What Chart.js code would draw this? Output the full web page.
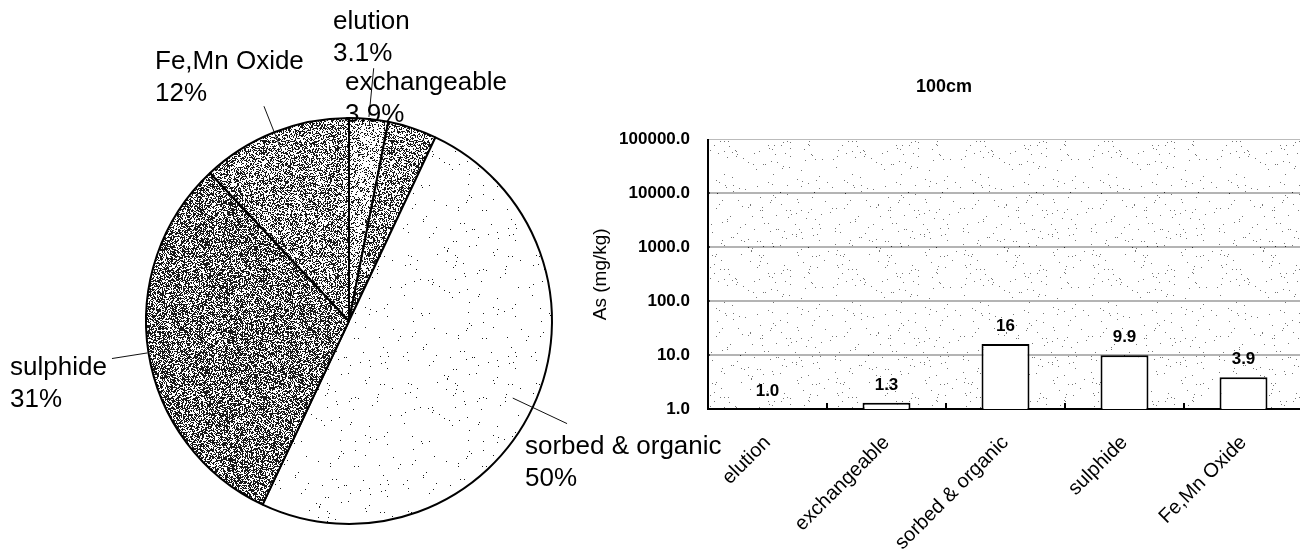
<!DOCTYPE html>
<html>
<head>
<meta charset="utf-8">
<title>As fractions 100cm</title>
<script src="https://cdn.jsdelivr.net/npm/chart.js@4.4.1/dist/chart.umd.min.js"></script>
<style>
  html, body { margin: 0; padding: 0; background: #fff; overflow: hidden; }
  body { width: 1300px; height: 553px; position: relative; }
  #barWrap { position: absolute; left: 560px; top: 0; width: 760px; height: 553px; z-index: 1; }
  #pieWrap { position: absolute; left: 0; top: 0; width: 760px; height: 553px; z-index: 2; pointer-events: none; }
</style>
</head>
<body>
<div id="barWrap"><canvas id="barChart"></canvas></div>
<div id="pieWrap"><canvas id="pieChart"></canvas></div>
<script>
// Dados
const fractions = ["elution", "exchangeable", "sorbed & organic", "sulphide", "Fe,Mn Oxide"];
const pieShares = [3.1, 3.9, 50, 31, 12];
const pieLabels = ["3.1%", "3.9%", "50%", "31%", "12%"];
const asValues = [1.0, 1.3, 16, 9.9, 3.9];
const valueLabels = ["1.0", "1.3", "16", "9.9", "3.9"];
const yTicks = [1, 10, 100, 1000, 10000, 100000];
const barTitle = "100cm";
const yTitle = "As (mg/kg)";

const FONT = "'Liberation Sans', Arial, sans-serif";

// Textura pontilhada (hash fixo, sem aleatório)
function stipple(density) {
  const c = document.createElement("canvas");
  c.width = c.height = 128;
  const g = c.getContext("2d");
  const img = g.createImageData(128, 128);
  for (let y = 0; y < 128; y++) {
    for (let x = 0; x < 128; x++) {
      let h = Math.sin(x * 12.9898 + y * 78.233) * 43758.5453;
      h = h - Math.floor(h);
      const v = h < density ? 25 : 255;
      const k = (y * 128 + x) * 4;
      img.data[k] = img.data[k + 1] = img.data[k + 2] = v;
      img.data[k + 3] = 255;
    }
  }
  g.putImageData(img, 0, 0);
  return g.createPattern(c, "repeat");
}

// Rótulos da pizza: posição relativa ao centro e linhas de chamada
const pieLabelPos = [[-16, -299], [-4, -238], [176, 126], [-339, 47], [-194, -259]];
const leaderRadii = [[205, 254], null, [181, 241], [204, 240], [185, 231]];

const pieLabelPlugin = {
  id: "pieLabels",
  afterDraw(chart) {
    const ctx = chart.ctx;
    const arcs = chart.getDatasetMeta(0).data;
    ctx.save();
    ctx.strokeStyle = "#111";
    ctx.lineWidth = 1;
    arcs.forEach((arc, i) => {
      const r = leaderRadii[i];
      if (!r) return;
      const mid = (arc.startAngle + arc.endAngle) / 2;
      ctx.beginPath();
      ctx.moveTo(arc.x + Math.cos(mid) * r[0], arc.y + Math.sin(mid) * r[0]);
      ctx.lineTo(arc.x + Math.cos(mid) * r[1], arc.y + Math.sin(mid) * r[1]);
      ctx.stroke();
    });
    ctx.fillStyle = "#000";
    ctx.font = "26px " + FONT;
    ctx.textAlign = "left";
    ctx.textBaseline = "middle";
    arcs.forEach((arc, i) => {
      const lx = arc.x + pieLabelPos[i][0];
      const ly = arc.y + pieLabelPos[i][1];
      ctx.fillText(fractions[i], lx, ly);
      ctx.fillText(pieLabels[i], lx, ly + 32);
    });
    ctx.restore();
  },
};

// Gráfico de pizza
new Chart(document.getElementById("pieChart"), {
  type: "pie",
  data: {
    labels: fractions,
    datasets: [
      {
        data: pieShares,
        backgroundColor: [stipple(0.25), stipple(0.45), stipple(0.006), stipple(0.55), stipple(0.45)],
        borderColor: "#000",
        borderWidth: 2,
      },
    ],
  },
  options: {
    animation: false,
    responsive: true,
    maintainAspectRatio: false,
    events: [],
    layout: { padding: { left: 145, right: 207, top: 117, bottom: 28 } },
    plugins: { legend: { display: false }, tooltip: { enabled: false } },
  },
  plugins: [pieLabelPlugin],
});

// Fundo pontilhado, marcas do eixo x e valores das barras
const barExtras = {
  id: "barExtras",
  beforeDatasetsDraw(chart) {
    const a = chart.chartArea;
    const ctx = chart.ctx;
    ctx.save();
    ctx.globalAlpha = 0.6;
    ctx.fillStyle = stipple(0.012);
    ctx.fillRect(a.left + 2, a.top + 1, a.right - a.left - 2, a.bottom - a.top - 2);
    ctx.restore();
  },
  afterDatasetsDraw(chart) {
    const ctx = chart.ctx;
    const xs = chart.scales.x;
    const bottom = chart.chartArea.bottom;
    const step = xs.getPixelForValue(1) - xs.getPixelForValue(0);
    ctx.save();
    ctx.strokeStyle = "#000";
    ctx.lineWidth = 2;
    for (let i = 0; i < fractions.length - 1; i++) {
      const px = xs.getPixelForValue(i) + step / 2;
      ctx.beginPath();
      ctx.moveTo(px, bottom);
      ctx.lineTo(px, bottom - 6);
      ctx.stroke();
    }
    ctx.fillStyle = "#000";
    ctx.font = "bold 17px " + FONT;
    ctx.textAlign = "center";
    ctx.textBaseline = "middle";
    chart.getDatasetMeta(0).data.forEach((bar, i) => {
      ctx.fillText(valueLabels[i], bar.x, bar.y - 18);
    });
    ctx.restore();
  },
};

// Gráfico de barras (escala log)
new Chart(document.getElementById("barChart"), {
  type: "bar",
  data: {
    labels: fractions,
    datasets: [
      {
        data: asValues,
        backgroundColor: "#fff",
        borderColor: "#000",
        borderWidth: 2,
        barPercentage: 0.806,
        categoryPercentage: 0.5,
      },
    ],
  },
  options: {
    animation: false,
    responsive: true,
    maintainAspectRatio: false,
    events: [],
    layout: { padding: { left: 25, right: 17, top: 0, bottom: 0 } },
    plugins: {
      legend: { display: false },
      tooltip: { enabled: false },
      title: {
        display: true,
        text: barTitle,
        color: "#000",
        font: { family: FONT, size: 18, weight: "bold", lineHeight: 1.2 },
        padding: { top: 76, bottom: 42 },
      },
    },
    scales: {
      x: {
        grid: { display: false, offset: true },
        border: { color: "#000", width: 2 },
        ticks: {
          color: "#000",
          font: { family: FONT, size: 20 },
          minRotation: 45,
          maxRotation: 45,
          autoSkip: false,
          padding: 14,
        },
        afterFit(scale) {
          scale.height = 144;
        },
      },
      y: {
        type: "logarithmic",
        min: 1,
        max: 100000,
        afterBuildTicks(scale) {
          scale.ticks = yTicks.map((v) => ({ value: v }));
        },
        ticks: {
          color: "#000",
          font: { family: FONT, size: 17, weight: "bold" },
          padding: 18,
          callback: (v) => Number(v).toFixed(1),
        },
        grid: {
          drawTicks: false,
          color: (c) => (c.tick && c.tick.value === 100000 ? "#bbb" : "#444"),
          lineWidth: (c) => (c.tick && c.tick.value === 100000 ? 1 : 2),
        },
        border: { color: "#000", width: 2 },
        title: {
          display: true,
          text: yTitle,
          color: "#000",
          font: { family: FONT, size: 19 },
          padding: { top: 4, bottom: 4 },
        },
        afterFit(scale) {
          scale.width = 123;
        },
      },
    },
  },
  plugins: [barExtras],
});
</script>
</body>
</html>
